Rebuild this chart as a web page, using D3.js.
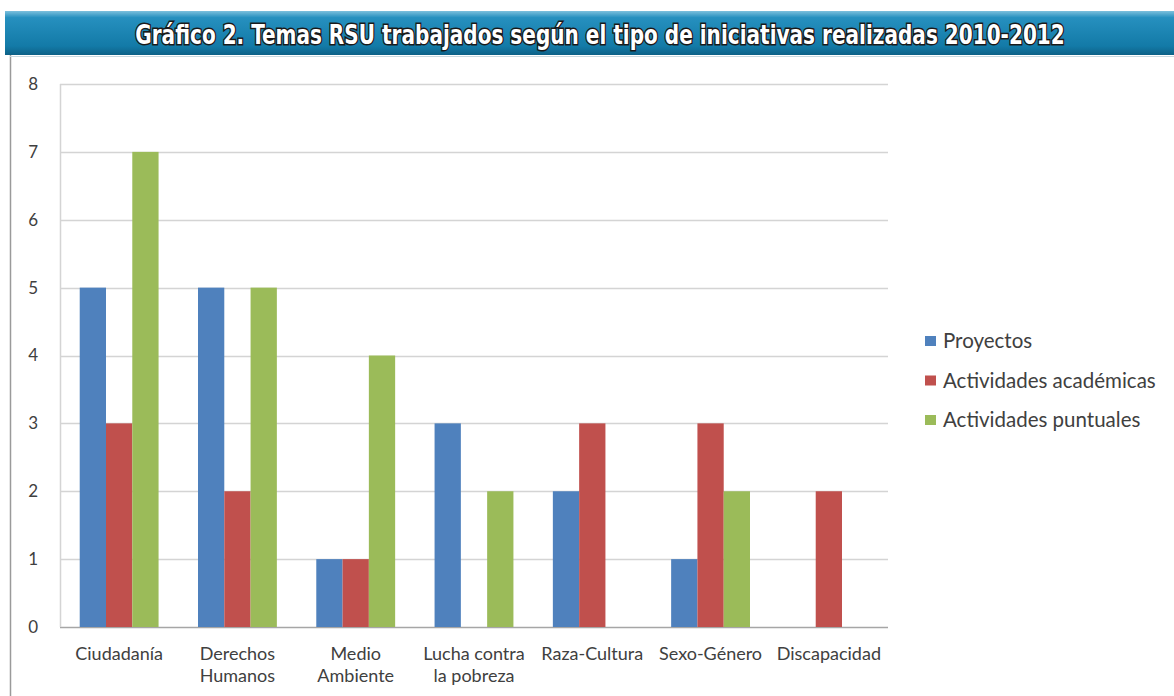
<!DOCTYPE html>
<html>
<head>
<meta charset="utf-8">
<script src="https://cdn.jsdelivr.net/npm/d3@7"></script>
<style>
  body { margin: 0; background: #fff; }
  svg { display: block; }
</style>
</head>
<body>
<svg width="1174" height="696"></svg>
<script>
var categories = [["Ciudadanía"], ["Derechos", "Humanos"], ["Medio", "Ambiente"], ["Lucha contra", "la pobreza"], ["Raza-Cultura"], ["Sexo-Género"], ["Discapacidad"]];
var seriesNames = ["Proyectos", "Actividades académicas", "Actividades puntuales"];
var proyectos = [5, 5, 1, 3, 2, 1, 0];
var academicas = [3, 2, 1, 0, 3, 3, 2];
var puntuales = [7, 5, 4, 2, 0, 2, 0];
var yTicks = [0, 1, 2, 3, 4, 5, 6, 7, 8];
var colors = ["#4f81bd", "#c0504d", "#9bbb59"];
var title = "Gráfico 2. Temas RSU trabajados según el tipo de iniciativas realizadas 2010-2012";

var svg = d3.select("svg"),
  width = +svg.attr("width"),
  height = +svg.attr("height");

var series = [proyectos, academicas, puntuales];
var bodyFont = "Lato, 'Open Sans', sans-serif";

// title banner
var defs = svg.append("defs");
var grad = defs.append("linearGradient").attr("id", "band").attr("x1", 0).attr("y1", 0).attr("x2", 0).attr("y2", 1);
grad.append("stop").attr("offset", "0%").attr("stop-color", "#7cc0dd");
grad.append("stop").attr("offset", "15%").attr("stop-color", "#2690bf");
grad.append("stop").attr("offset", "80%").attr("stop-color", "#137aa7");
grad.append("stop").attr("offset", "100%").attr("stop-color", "#0d6187");

svg.append("rect")
  .attr("x", 5).attr("y", 11)
  .attr("width", width - 5).attr("height", 44)
  .attr("fill", "url(#band)");

// squeeze the title horizontally to look like a narrow font
var titleText = svg.append("text")
  .attr("text-anchor", "middle")
  .style("font-family", "'DejaVu Sans Condensed', 'Liberation Sans', sans-serif")
  .style("font-weight", "bold")
  .style("font-size", "27px")
  .attr("fill", "#fff")
  .attr("stroke", "#1a1a1a")
  .attr("stroke-width", 3)
  .attr("paint-order", "stroke")
  .text(title);
var natural = titleText.node().getComputedTextLength();
var sx = Math.min(1, 930 / natural);
titleText.attr("transform", "translate(600,44) scale(" + sx + ",1)");

// chart frame
svg.append("line").attr("x1", 10.5).attr("x2", 10.5).attr("y1", 55).attr("y2", height)
  .attr("stroke", "#9a9a9a").attr("stroke-width", 1.5);
svg.append("line").attr("x1", 10).attr("x2", width).attr("y1", 56.5).attr("y2", 56.5)
  .attr("stroke", "#c8d8e0").attr("stroke-width", 1);

var margin = { left: 60, right: 286, top: 84, bottom: 69 };
var x = d3.scaleBand()
  .domain(d3.range(categories.length))
  .range([margin.left, width - margin.right]);

var x1 = d3.scaleBand()
  .domain(d3.range(series.length))
  .range([0, x.bandwidth()])
  .paddingInner(0)
  .paddingOuter(0.75);

var y = d3.scaleLinear()
  .domain([0, 8])
  .range([height - margin.bottom, margin.top]);

// gridlines
svg.append("g")
  .attr("class", "grid")
  .selectAll("line")
  .data(yTicks)
  .enter()
  .append("line")
  .attr("x1", margin.left)
  .attr("x2", width - margin.right)
  .attr("y1", function(d) { return Math.round(y(d)) + 0.5; })
  .attr("y2", function(d) { return Math.round(y(d)) + 0.5; })
  .attr("stroke", function(d) { return d === 0 ? "#a6a6a6" : "#d4d4d4"; })
  .attr("stroke-width", 1.5);

svg.append("line")
  .attr("x1", margin.left + 0.5).attr("x2", margin.left + 0.5)
  .attr("y1", y(8)).attr("y2", y(0))
  .attr("stroke", "#d4d4d4").attr("stroke-width", 1.5);

// y axis labels
var yAxis = d3.axisLeft(y).tickValues(yTicks).tickSize(0).tickPadding(22);
var yg = svg.append("g")
  .attr("transform", "translate(" + margin.left + ",0)")
  .call(yAxis);
yg.select(".domain").remove();
yg.selectAll("text")
  .style("font-family", bodyFont)
  .style("font-size", "17px")
  .attr("fill", "#404040");

// bars
var groups = svg.append("g")
  .selectAll("g")
  .data(categories)
  .enter()
  .append("g")
  .attr("transform", function(d, i) { return "translate(" + x(i) + ",0)"; });

groups.selectAll("rect")
  .data(function(d, i) {
    return series.map(function(s, k) { return { k: k, value: s[i] }; });
  })
  .enter()
  .append("rect")
  .attr("x", function(d) { return x1(d.k); })
  .attr("width", x1.bandwidth())
  .attr("y", function(d) { return y(d.value); })
  .attr("height", function(d) { return y(0) - y(d.value); })
  .attr("fill", function(d) { return colors[d.k]; });

// x labels
var xl = svg.append("g")
  .selectAll("text")
  .data(categories)
  .enter()
  .append("text")
  .attr("x", function(d, i) { return x(i) + x.bandwidth() / 2; })
  .attr("y", 660)
  .attr("text-anchor", "middle")
  .style("font-family", bodyFont)
  .style("font-size", "18px")
  .attr("fill", "#404040");

xl.selectAll("tspan")
  .data(function(d) { return d; })
  .enter()
  .append("tspan")
  .attr("x", function() { return d3.select(this.parentNode).attr("x"); })
  .attr("dy", function(d, i) { return i === 0 ? 0 : 22; })
  .text(function(d) { return d; });

// legend
var legend = svg.append("g")
  .selectAll("g")
  .data(seriesNames)
  .enter()
  .append("g")
  .attr("transform", function(d, i) { return "translate(925," + (341 + i * 39.5) + ")"; });

legend.append("rect")
  .attr("x", 0).attr("y", -5)
  .attr("width", 11).attr("height", 10)
  .attr("fill", function(d, i) { return colors[i]; });

legend.append("text")
  .attr("x", 18).attr("y", 0)
  .attr("dy", "0.35em")
  .style("font-family", bodyFont)
  .style("font-size", "20.5px")
  .attr("fill", "#404040")
  .text(function(d) { return d; });
</script>
</body>
</html>
